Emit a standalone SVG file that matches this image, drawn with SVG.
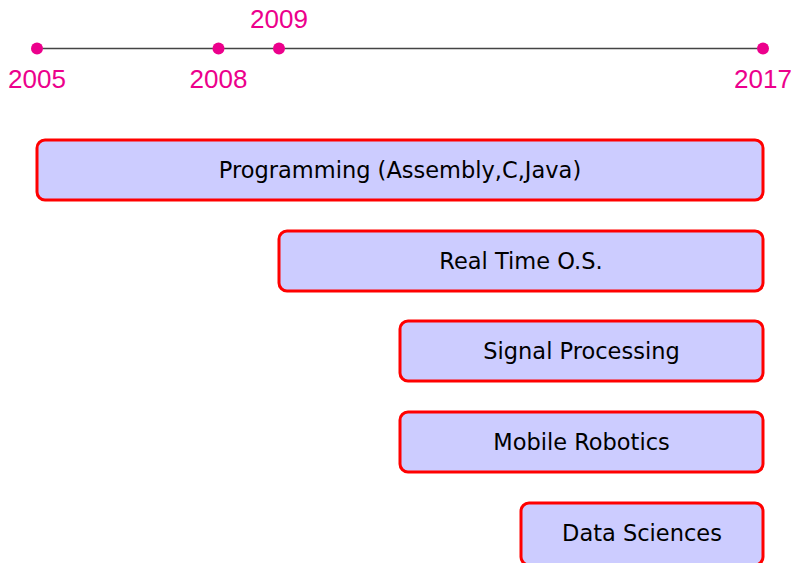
<svg xmlns="http://www.w3.org/2000/svg" width="793" height="563" viewBox="0 0 793 563">
  <style>
    .axis { stroke: #444444; stroke-width: 1.3; fill: none; }
    .tick { fill: #ec008c; }
    .year { fill: #ec008c; font-family: "Liberation Sans", Arial, sans-serif; font-size: 26px; text-anchor: middle; }
    .bar rect { fill: #ccccff; stroke: #ff0000; stroke-width: 3; }
    .bar text { fill: #000000; font-family: "DejaVu Sans", sans-serif; font-size: 22.5px; text-anchor: middle; dominant-baseline: central; }
  </style>
  <rect width="793" height="563" fill="#ffffff"/>

  <!-- timeline axis -->
  <g id="connectors">
    <line class="axis" x1="37" y1="48.5" x2="763" y2="48.5"/>
  </g>

  <g id="y2005">
    <circle class="tick" cx="37" cy="48.5" r="6"/>
    <text class="year" x="37" y="88">2005</text>
  </g>
  <g id="y2008">
    <circle class="tick" cx="218.5" cy="48.5" r="6"/>
    <text class="year" x="218.5" y="88">2008</text>
  </g>
  <g id="y2009">
    <circle class="tick" cx="279" cy="48.5" r="6"/>
    <text class="year" x="279" y="28">2009</text>
  </g>
  <g id="y2017">
    <circle class="tick" cx="763" cy="48.5" r="6"/>
    <text class="year" x="763" y="88">2017</text>
  </g>

  <!-- skill bars -->
  <g id="programming" class="bar">
    <rect x="37" y="140" width="726" height="60" rx="8"/>
    <text x="400" y="170">Programming (Assembly,C,Java)</text>
  </g>
  <g id="rtos" class="bar">
    <rect x="279" y="231" width="484" height="60" rx="8"/>
    <text x="521" y="261">Real Time O.S.</text>
  </g>
  <g id="signal" class="bar">
    <rect x="400" y="321" width="363" height="60" rx="8"/>
    <text x="581.5" y="351">Signal Processing</text>
  </g>
  <g id="robotics" class="bar">
    <rect x="400" y="412" width="363" height="60" rx="8"/>
    <text x="581.5" y="442">Mobile Robotics</text>
  </g>
  <g id="datasci" class="bar">
    <rect x="521" y="503" width="242" height="62" rx="8"/>
    <text x="642" y="533">Data Sciences</text>
  </g>
</svg>
